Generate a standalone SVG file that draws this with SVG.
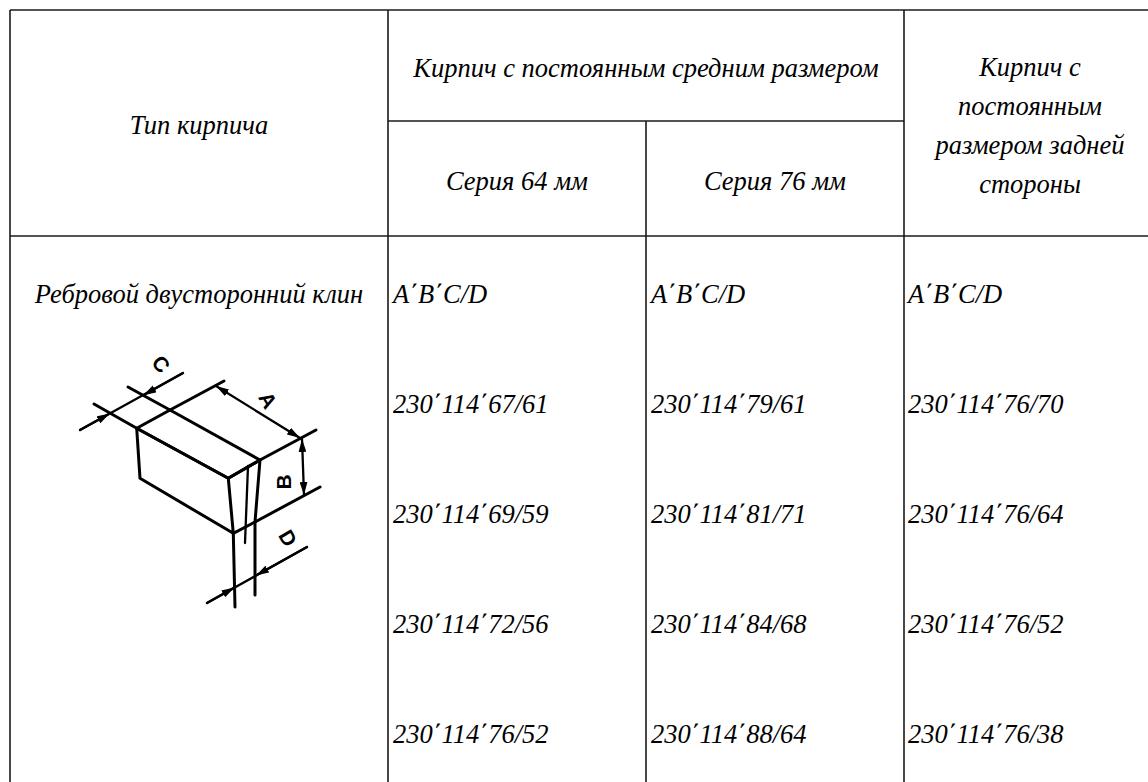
<svg xmlns="http://www.w3.org/2000/svg" width="1148" height="782" viewBox="0 0 1148 782">
<style>
.grid{stroke:#1a1a1a;stroke-width:1.6;fill:none}
.t{font-family:"Liberation Serif","Times New Roman",serif;font-style:italic;font-size:26.5px;fill:#000}
.c{text-anchor:middle}
.br{stroke:#000;stroke-width:3;fill:none;stroke-linejoin:round;stroke-linecap:round}
.thin{stroke:#000;stroke-width:2.3;fill:none;stroke-linecap:round}
.lbl{font-family:"Liberation Sans",Arial,sans-serif;font-weight:bold;font-size:21px;fill:#000;text-anchor:middle;dominant-baseline:central}
</style>
<defs>
<marker id="ah" viewBox="0 0 10 6" refX="10" refY="3" markerWidth="13" markerHeight="8" markerUnits="userSpaceOnUse" orient="auto-start-reverse"><path d="M0,0 L10,3 L0,6 z" fill="#000"/></marker>
</defs>
<rect width="1148" height="782" fill="#fff"/>
<g id="grid">
<line class="grid" x1="10" y1="10" x2="1148" y2="10"/>
<line class="grid" x1="388" y1="121" x2="904" y2="121"/>
<line class="grid" x1="10" y1="236" x2="1148" y2="236"/>
<line class="grid" x1="10" y1="10" x2="10" y2="782"/>
<line class="grid" x1="388" y1="10" x2="388" y2="782"/>
<line class="grid" x1="646" y1="121" x2="646" y2="782"/>
<line class="grid" x1="904" y1="10" x2="904" y2="782"/>
</g>
<g id="header">
<text class="t c" x="199" y="134">Тип кирпича</text>
<text class="t c" x="646" y="77">Кирпич с постоянным средним размером</text>
<text class="t c" x="517" y="190">Серия 64 мм</text>
<text class="t c" x="775" y="190">Серия 76 мм</text>
<text class="t c" x="1030" y="76">Кирпич с</text>
<text class="t c" x="1030" y="115">постоянным</text>
<text class="t c" x="1030" y="154">размером задней</text>
<text class="t c" x="1030" y="193">стороны</text>
</g>
<g id="row-type">
<text class="t c" x="199" y="303">Ребровой двусторонний клин</text>
</g>
<g id="col-64">
<text class="t" x="393" y="303">A΄B΄C/D</text>
<text class="t" x="393" y="413">230΄114΄67/61</text>
<text class="t" x="393" y="523">230΄114΄69/59</text>
<text class="t" x="393" y="633">230΄114΄72/56</text>
<text class="t" x="393" y="743">230΄114΄76/52</text>
</g>
<g id="col-76">
<text class="t" x="651" y="303">A΄B΄C/D</text>
<text class="t" x="651" y="413">230΄114΄79/61</text>
<text class="t" x="651" y="523">230΄114΄81/71</text>
<text class="t" x="651" y="633">230΄114΄84/68</text>
<text class="t" x="651" y="743">230΄114΄88/64</text>
</g>
<g id="col-back">
<text class="t" x="908" y="303">A΄B΄C/D</text>
<text class="t" x="908" y="413">230΄114΄76/70</text>
<text class="t" x="908" y="523">230΄114΄76/64</text>
<text class="t" x="908" y="633">230΄114΄76/52</text>
<text class="t" x="908" y="743">230΄114΄76/38</text>
</g>
<g id="brick">
<polygon class="br" points="136.7,428.3 170,410 260,460 228.3,478.3"/>
<polygon class="br" points="136.7,428.3 228.3,478.3 233.3,533.3 140,478.3"/>
<polyline class="br" points="228.3,478.3 260,460 255,522 233.3,533.3"/>
<line class="thin" x1="248" y1="466" x2="245" y2="543"/>
<line class="br" x1="136.7" y1="428.3" x2="94" y2="404"/>
<line class="br" x1="170" y1="410" x2="128" y2="387"/>
<line class="br" x1="170" y1="410" x2="224" y2="381"/>
<line class="br" x1="260" y1="460" x2="316" y2="430"/>
<line class="br" x1="255" y1="522" x2="320" y2="487"/>
<line class="br" x1="233.3" y1="533.3" x2="235" y2="607"/>
<line class="br" x1="255" y1="522" x2="255" y2="595"/>
</g>
<g id="dimensions">
<line class="thin" x1="80" y1="430" x2="183" y2="373"/>
<line class="thin" x1="80" y1="430" x2="109.8" y2="413.6" marker-end="url(#ah)"/>
<line class="thin" x1="183" y1="373" x2="143.3" y2="395.2" marker-end="url(#ah)"/>
<line class="thin" x1="216" y1="386" x2="300" y2="438" marker-start="url(#ah)" marker-end="url(#ah)"/>
<line class="thin" x1="302" y1="439" x2="304" y2="495" marker-start="url(#ah)" marker-end="url(#ah)"/>
<line class="thin" x1="207" y1="603" x2="307" y2="547"/>
<line class="thin" x1="207" y1="603" x2="234.5" y2="587.6" marker-end="url(#ah)"/>
<line class="thin" x1="307" y1="547" x2="256" y2="575.4" marker-end="url(#ah)"/>
<text class="lbl" transform="translate(161,364) rotate(50)">C</text>
<text class="lbl" transform="translate(268,400) rotate(60)">A</text>
<text class="lbl" transform="translate(283,482) rotate(-90)">B</text>
<text class="lbl" transform="translate(288,538) rotate(60)">D</text>
</g>
</svg>
